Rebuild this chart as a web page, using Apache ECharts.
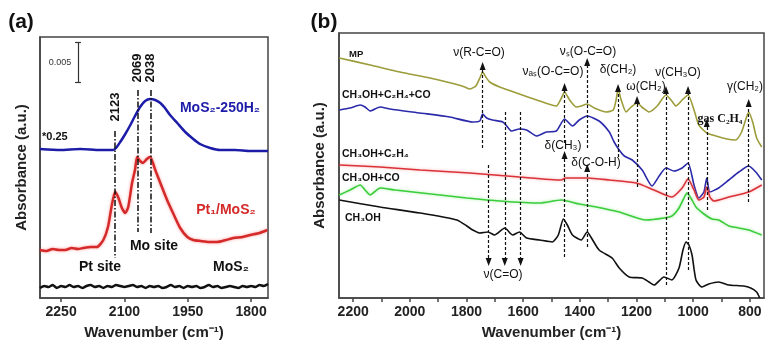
<!DOCTYPE html>
<html><head><meta charset="utf-8">
<script src="https://cdn.jsdelivr.net/npm/echarts@6/dist/echarts.min.js"></script>
<style>html,body{margin:0;padding:0;background:#fff}#c{width:779px;height:349px}</style>
</head><body><div id="c"></div>
<script>
// ---------- DATA ----------
const aTicks = [2250, 2100, 1950, 1800];
const bTicks = [2200, 2000, 1800, 1600, 1400, 1200, 1000, 800];
const bMinorTicks = [2100, 1900, 1700, 1500, 1300, 1100, 900];

// panel (a) spectra  [wavenumber, absorbance (a.u.)]
const aMoS2H2 = [[2300,149],[2252,148],[2205,149],[2158,148],[2127,148],[2120,150],[2110,156],[2098,164],[2086,173],[2075,182],[2063,191],[2051,197],[2039,199],[2027,198],[2015,195],[2004,190],[1992,183],[1975,175],[1956,166],[1937,159],[1921,154],[1897,150],[1873,148],[1838,148],[1802,147],[1760,147]];
const aPtMoS2 = [[2300,48],[2285,47],[2270,49],[2255,48],[2240,48],[2225,50],[2210,49],[2198,50],[2180,51],[2165,51],[2150,58],[2139,71],[2129,95],[2122,106],[2115,101],[2106,90],[2098,85],[2091,91],[2082,115],[2075,128],[2070,141],[2063,137],[2056,135],[2047,139],[2039,141],[2027,128],[2015,115],[1999,98],[1985,85],[1968,70],[1951,61],[1937,58],[1920,57],[1900,56],[1880,56],[1860,58],[1842,60],[1820,61],[1802,63],[1780,65],[1762,68]];
const aMoS2 = [[2300,10],[2290,12],[2280,11],[2270,13],[2260,10],[2250,12],[2240,11],[2230,13],[2220,11],[2210,12],[2200,10],[2190,12],[2180,13],[2170,11],[2160,12],[2150,10],[2140,12],[2130,11],[2120,13],[2110,12],[2100,11],[2090,12],[2080,13],[2070,11],[2060,12],[2050,10],[2040,12],[2030,11],[2020,12],[2010,10],[2000,11],[1990,13],[1980,11],[1970,12],[1960,10],[1950,12],[1940,11],[1930,12],[1920,10],[1910,11],[1900,13],[1890,11],[1880,12],[1870,10],[1860,11],[1850,12],[1840,11],[1830,10],[1820,12],[1810,11],[1800,12],[1790,11],[1780,13],[1770,12],[1760,14]];
const aPeaks = [2123, 2069, 2038];

// panel (b) spectra
const bMP = [[2249,240],[2140,233],[2035,226],[1929,220],[1841,214],[1806,211],[1789,209],[1767,212],[1753,220],[1743,226],[1732,221],[1718,216],[1683,211],[1613,204],[1542,197],[1483,192],[1465,200],[1454,206],[1436,198],[1412,191],[1395,192],[1374,194],[1349,190],[1307,186],[1282,188],[1272,198],[1265,209],[1254,198],[1237,186],[1219,191],[1198,195],[1177,190],[1156,186],[1127,192],[1096,203],[1078,198],[1061,192],[1039,198],[1018,203],[997,188],[980,173],[952,165],[920,162],[881,159],[850,158],[829,166],[815,178],[804,186],[790,176],[776,160],[758,151]];
const bMeC2H4CO = [[2249,188],[2211,190],[2175,193],[2158,191],[2140,187],[2105,191],[2070,189],[1964,185],[1859,181],[1778,176],[1753,177],[1743,184],[1729,180],[1708,178],[1672,176],[1658,172],[1641,167],[1613,169],[1588,168],[1553,162],[1518,166],[1483,167],[1454,179],[1426,172],[1402,178],[1374,182],[1332,177],[1296,166],[1279,156],[1261,148],[1243,142],[1215,138],[1180,128],[1145,112],[1120,122],[1096,130],[1068,127],[1039,130],[1018,135],[997,113],[980,100],[962,106],[952,120],[941,106],[910,110],[874,118],[839,126],[804,132],[779,126],[758,118]];
const bMeC2H4 = [[2249,133],[2105,131],[1964,128],[1789,125],[1613,121],[1465,118],[1451,120],[1374,120],[1296,118],[1201,115],[1138,108],[1075,101],[1039,110],[1018,119],[997,108],[980,98],[962,101],[952,111],[941,101],[927,97],[874,101],[804,106],[758,113]];
const bMeCO = [[2249,103],[2211,108],[2175,113],[2158,108],[2140,103],[2105,110],[2052,108],[1989,106],[1894,103],[1799,100],[1683,97],[1542,95],[1465,98],[1402,94],[1342,91],[1261,86],[1166,78],[1103,80],[1075,82],[1050,90],[1029,102],[1022,105],[1008,100],[990,91],[962,84],[934,79],[910,78],[874,72],[839,70],[804,68],[758,63]];
const bMeOH = [[2249,98],[2105,91],[1964,85],[1834,78],[1799,72],[1778,68],[1753,65],[1725,66],[1701,63],[1665,70],[1637,63],[1613,66],[1588,60],[1542,58],[1497,56],[1476,63],[1458,79],[1444,73],[1426,63],[1395,58],[1374,66],[1359,60],[1332,48],[1286,40],[1261,30],[1226,21],[1180,20],[1156,16],[1138,13],[1103,21],[1075,18],[1050,30],[1036,48],[1025,56],[1015,53],[1004,43],[990,18],[969,11],[945,14],[910,16],[874,13],[822,12],[797,10],[776,6],[765,0]];

// marker lines in (b): [wavenumber, from, to(arrow end)]
const bArrowsUp = [[1743,150,232],[1454,155,211],[1454,41,143],[1374,150,236],[1374,51,130],[1265,141,210],[1198,111,198],[1096,13,208],[1018,28,208],[952,88,175],[804,96,195]];
const bArrowsDown = [[1722,133,36],[1665,186,36],[1609,186,36]];
// dash-dot lines in (a): [wavenumber, top, bottom]
const aLines = [[2123,167,40],[2069,208,66],[2038,208,65]];
// scale bar in (a): [wavenumber, bottom, top, half-width]
const aScale = [2210, 216, 256, 7];

// ---------- CHART ----------
const FF = "'Liberation Sans', Arial, sans-serif";
const chart = echarts.init(document.getElementById('c'), null, {renderer: 'canvas'});

function line(data, color, width, xi, yi, extra) {
  return Object.assign({
    type: 'line', data: data, xAxisIndex: xi, yAxisIndex: yi, showSymbol: false, symbol: 'none',
    smooth: 0.2, lineStyle: {color: color, width: width}, silent: true, animation: false, z: 3
  }, extra || {});
}

const upMarks = bArrowsUp.map(d => [{coord: [d[0], d[1]], symbol: 'none'}, {coord: [d[0], d[2]], symbol: 'triangle'}]);
const downMarks = bArrowsDown.map(d => [{coord: [d[0], d[1]], symbol: 'none'}, {coord: [d[0], d[2]], symbol: 'triangle'}]);
const aMarks = aLines.map(d => [{coord: [d[0], d[1]]}, {coord: [d[0], d[2]]}]);
const scaleMarks = [
  [{coord: [aScale[0], aScale[1]]}, {coord: [aScale[0], aScale[2]]}],
  [{coord: [aScale[0] + aScale[3], aScale[1]]}, {coord: [aScale[0] - aScale[3], aScale[1]]}],
  [{coord: [aScale[0] + aScale[3], aScale[2]]}, {coord: [aScale[0] - aScale[3], aScale[2]]}]
];

function txt(text, x, y, size, opt) {
  opt = opt || {};
  return {
    type: 'text', x: x, y: y, rotation: opt.rot || 0, z: 10,
    style: {
      text: text, fill: opt.color || '#111',
      font: (opt.weight || 'bold') + ' ' + size + 'px ' + (opt.family || FF),
      textAlign: opt.align || 'center', textVerticalAlign: 'middle'
    }
  };
}
const plain = v => String(v);

const option = {
  animation: false,
  backgroundColor: '#fff',
  grid: [
    {left: 40, top: 37, width: 228, height: 261, show: true, borderColor: '#444', borderWidth: 1.5, backgroundColor: 'transparent'},
    {left: 339, top: 33, width: 425, height: 265, show: true, borderColor: '#444', borderWidth: 1.5, backgroundColor: 'transparent'}
  ],
  xAxis: [
    {gridIndex: 0, type: 'value', position: 'bottom', min: 1760, max: 2300, inverse: true,
      name: 'Wavenumber (cm\u207B\u00B9)', nameLocation: 'middle', nameGap: 27,
      nameTextStyle: {fontFamily: FF, fontWeight: 'bold', fontSize: 15, color: '#222'},
      axisLine: {lineStyle: {color: '#444', width: 1.5}},
      axisTick: {customValues: aTicks, length: 4, lineStyle: {color: '#444', width: 1.5}},
      axisLabel: {customValues: aTicks, formatter: plain, fontFamily: FF, fontWeight: 'bold', fontSize: 14, color: '#222', margin: 7},
      splitLine: {show: false}},
    {gridIndex: 1, type: 'value', position: 'bottom', min: 750, max: 2250, inverse: true,
      name: 'Wavenumber (cm\u207B\u00B9)', nameLocation: 'middle', nameGap: 27,
      nameTextStyle: {fontFamily: FF, fontWeight: 'bold', fontSize: 15, color: '#222'},
      axisLine: {lineStyle: {color: '#444', width: 1.5}},
      axisTick: {customValues: bTicks.concat(bMinorTicks), length: 4, lineStyle: {color: '#444', width: 1.5}},
      axisLabel: {customValues: bTicks, formatter: plain, fontFamily: FF, fontWeight: 'bold', fontSize: 14, color: '#222', margin: 7},
      splitLine: {show: false}}
  ],
  yAxis: [
    {gridIndex: 0, type: 'value', min: 0, max: 261,
      name: 'Absorbance (a.u.)', nameLocation: 'middle', nameGap: 11, nameRotate: 90,
      nameTextStyle: {fontFamily: FF, fontWeight: 'bold', fontSize: 15, color: '#222'},
      axisLine: {show: true, lineStyle: {color: '#444', width: 1.5}}, axisTick: {show: false},
      axisLabel: {show: false}, splitLine: {show: false}},
    {gridIndex: 1, type: 'value', min: 0, max: 265,
      name: 'Absorbance (a.u.)', nameLocation: 'middle', nameGap: 12, nameRotate: 90,
      nameTextStyle: {fontFamily: FF, fontWeight: 'bold', fontSize: 15, color: '#222'},
      axisLine: {show: true, lineStyle: {color: '#444', width: 1.5}}, axisTick: {show: false},
      axisLabel: {show: false}, splitLine: {show: false}}
  ],
  series: [
    line(aMoS2H2, '#1c1ca8', 2.5, 0, 0),
    line(aPtMoS2, '#d42a2a', 2.5, 0, 0, {lineStyle: {color: '#d42a2a', width: 2.5, shadowColor: 'rgba(255,60,60,0.5)', shadowBlur: 3}}),
    line(aMoS2, '#111', 2.5, 0, 0, {
      markLine: {silent: true, animation: false, symbol: 'none', label: {show: false},
        lineStyle: {color: '#111', width: 1.5, type: [6, 2, 1.5, 2]}, data: aMarks}
    }),
    line(aMoS2, 'rgba(0,0,0,0)', 0, 0, 0, {
      markLine: {silent: true, animation: false, symbol: 'none', label: {show: false},
        lineStyle: {color: '#333', width: 1.2, type: 'solid'}, data: scaleMarks}
    }),
    line(bMP, '#9c9c3a', 1.6, 1, 1),
    line(bMeC2H4CO, '#2a2aaa', 1.6, 1, 1),
    line(bMeC2H4, '#d8343a', 1.6, 1, 1, {lineStyle: {color: '#d8343a', width: 1.6, shadowColor: 'rgba(255,80,80,0.45)', shadowBlur: 3}}),
    line(bMeCO, '#3ccc3c', 1.6, 1, 1, {lineStyle: {color: '#3ccc3c', width: 1.6, shadowColor: 'rgba(80,230,80,0.5)', shadowBlur: 3}}),
    line(bMeOH, '#111', 1.6, 1, 1, {
      markLine: {silent: true, animation: false, symbolSize: [6, 8], label: {show: false},
        lineStyle: {color: '#111', width: 1.2, type: [3, 2]}, data: upMarks.concat(downMarks)}
    })
  ],
  graphic: [
    txt('(a)', 21, 22, 21),
    txt('(b)', 324, 22, 21),
    txt('0.005', 60, 63, 9, {weight: 'normal', color: '#333'}),
    txt('*0.25', 42, 137, 11, {align: 'left'}),
    txt('2123', 115, 107, 13, {rot: Math.PI / 2}),
    txt('2069', 137, 68, 13, {rot: Math.PI / 2}),
    txt('2038', 150, 68, 13, {rot: Math.PI / 2}),
    txt('MoS\u2082-250H\u2082', 220, 108, 14, {color: '#1c1ca8'}),
    txt('Pt\u2081/MoS\u2082', 226, 210, 14, {color: '#d42a2a'}),
    txt('Mo site', 154, 246, 14),
    txt('Pt site', 100, 267, 14),
    txt('MoS\u2082', 231, 267, 14),
    txt('MP', 349, 54, 9.5, {align: 'left'}),
    txt('CH\u2083OH+C\u2082H\u2084+CO', 342, 95, 10.5, {align: 'left'}),
    txt('CH\u2083OH+C\u2082H\u2084', 342, 154, 10.5, {align: 'left'}),
    txt('CH\u2083OH+CO', 342, 178, 10.5, {align: 'left'}),
    txt('CH\u2083OH', 345, 218, 10.5, {align: 'left'}),
    txt('\u03BD(R-C=O)', 479, 53, 12, {weight: 'normal'}),
    txt('\u03BD\u2090\u209B(O-C=O)', 553, 72, 12, {weight: 'normal'}),
    txt('\u03BD\u209B(O-C=O)', 588, 52, 12, {weight: 'normal'}),
    txt('\u03B4(CH\u2082)', 618, 70, 12, {weight: 'normal'}),
    txt('\u03C9(CH\u2082)', 646, 87, 12, {weight: 'normal'}),
    txt('\u03BD(CH\u2083O)', 678, 73, 12, {weight: 'normal'}),
    txt('\u03B3(CH\u2082)', 745, 87, 12, {weight: 'normal'}),
    txt('gas C\u2082H\u2084', 720, 119, 12, {family: "'Liberation Serif', 'Times New Roman', serif"}),
    txt('\u03B4(CH\u2083)', 563, 146, 12, {weight: 'normal'}),
    txt('\u03B4(C-O-H)', 596, 163, 12, {weight: 'normal'}),
    txt('\u03BD(C=O)', 503, 275, 12, {weight: 'normal'})
  ]
};
chart.setOption(option);
</script>
</body></html>
